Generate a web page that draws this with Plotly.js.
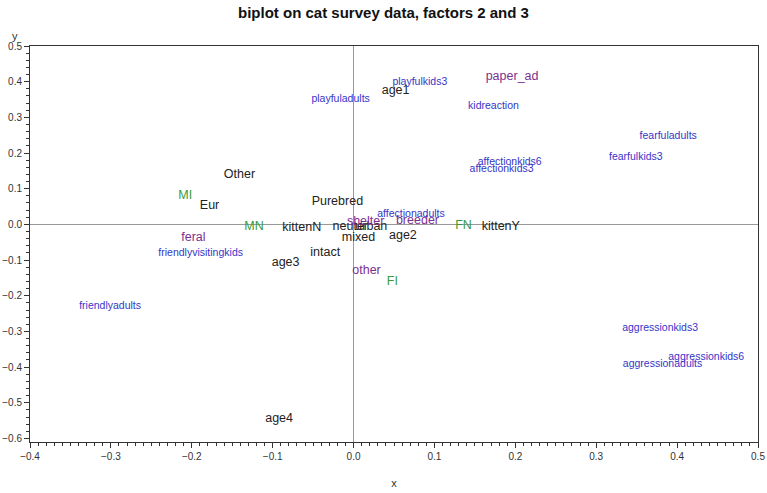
<!DOCTYPE html>
<html>
<head>
<meta charset="utf-8">
<script src="https://cdn.plot.ly/plotly-3.0.1.min.js"></script>
<style>body{margin:0;padding:0;background:#fff}#chart{width:767px;height:493px}</style>
</head>
<body>
<div id="chart"></div>
<script>
// Black labels (cat characteristics)
const blackLabels = ["age1","Other","Eur","Purebred","kittenN","neuter","urban","mixed","age2","intact","age3","kittenY","age4"];
const blackX = [0.052,-0.141,-0.178,-0.020,-0.064,-0.004,0.022,0.006,0.061,-0.035,-0.084,0.182,-0.092];
const blackY = [0.374,0.138,0.053,0.062,-0.011,-0.008,-0.008,-0.037,-0.031,-0.081,-0.107,-0.006,-0.545];

// Green labels (sex / neuter status)
const greenLabels = ["MI","MN","FN","FI"];
const greenX = [-0.208,-0.123,0.136,0.048];
const greenY = [0.079,-0.008,-0.003,-0.160];

// Purple labels (source)
const purpleLabels = ["paper_ad","feral","shelter","breeder","other"];
const purpleX = [0.196,-0.198,0.015,0.079,0.016];
const purpleY = [0.413,-0.037,0.006,0.011,-0.129];

// Blue labels (behaviour variables)
const blueLabels = ["playfulkids3","playfuladults","kidreaction","fearfuladults","fearfulkids3","affectionkids6","affectionkids3","affectionadults","friendlyvisitingkids","friendlyadults","aggressionkids3","aggressionkids6","aggressionadults"];
const blueX = [0.082,-0.016,0.173,0.389,0.349,0.193,0.183,0.071,-0.189,-0.301,0.379,0.436,0.382];
const blueY = [0.399,0.351,0.331,0.247,0.188,0.174,0.154,0.028,-0.081,-0.230,-0.292,-0.374,-0.393];

function textTrace(x, y, labels, color, size) {
  return {x: x, y: y, text: labels, mode: 'text', type: 'scatter',
    textposition: 'middle center', cliponaxis: false,
    textfont: {family: 'Arial, Liberation Sans, sans-serif', size: size, color: color},
    hoverinfo: 'none', showlegend: false};
}

const data = [
  textTrace(blackX, blackY, blackLabels, '#222222', 12.5),
  textTrace(greenX, greenY, greenLabels, '#3a9a3a', 12.5),
  textTrace(purpleX, purpleY, purpleLabels, '#7b2f8f', 12.5),
  textTrace(blueX, blueY, blueLabels, '#3535c8', 10.5)
];

const axisCommon = {
  showgrid: false, showline: true, mirror: true, linecolor: '#333', linewidth: 1,
  ticks: 'outside', ticklen: 5, tickcolor: '#333', tickwidth: 1,
  zeroline: true, zerolinecolor: '#999', zerolinewidth: 1,
  tickfont: {family: 'Arial, Liberation Sans, sans-serif', size: 10, color: '#333'}
};

const layout = {
  width: 767, height: 493,
  margin: {l: 30, r: 9, t: 46, b: 51},
  paper_bgcolor: '#fff', plot_bgcolor: '#fff',
  title: {text: '<b>biplot on cat survey data, factors 2 and 3</b>', x: 0.5, xanchor: 'center', y: 0.974, yanchor: 'middle',
    font: {family: 'Arial, Liberation Sans, sans-serif', size: 15, color: '#111'}},
  xaxis: Object.assign({}, axisCommon, {
    range: [-0.4, 0.5], dtick: 0.1, tick0: 0, tickformat: '.1f',
    minor: {dtick: 0.01, ticklen: 3, ticks: 'outside', tickcolor: '#333', showgrid: false},
    title: {text: 'x', standoff: 18, font: {family: 'Arial, Liberation Sans, sans-serif', size: 11, color: '#333'}}
  }),
  yaxis: Object.assign({}, axisCommon, {
    range: [-0.61, 0.5], dtick: 0.1, tick0: 0, tickformat: '.1f',
    minor: {dtick: 0.02, ticklen: 3, ticks: 'outside', tickcolor: '#333', showgrid: false}
  }),
  annotations: [{text: 'y', xref: 'paper', yref: 'paper', x: -0.021, y: 1.0, yshift: 10, xanchor: 'center', yanchor: 'middle', showarrow: false,
    font: {family: 'Arial, Liberation Sans, sans-serif', size: 11, color: '#333'}}]
};

Plotly.newPlot('chart', data, layout, {displayModeBar: false, staticPlot: true});
</script>
</body>
</html>
